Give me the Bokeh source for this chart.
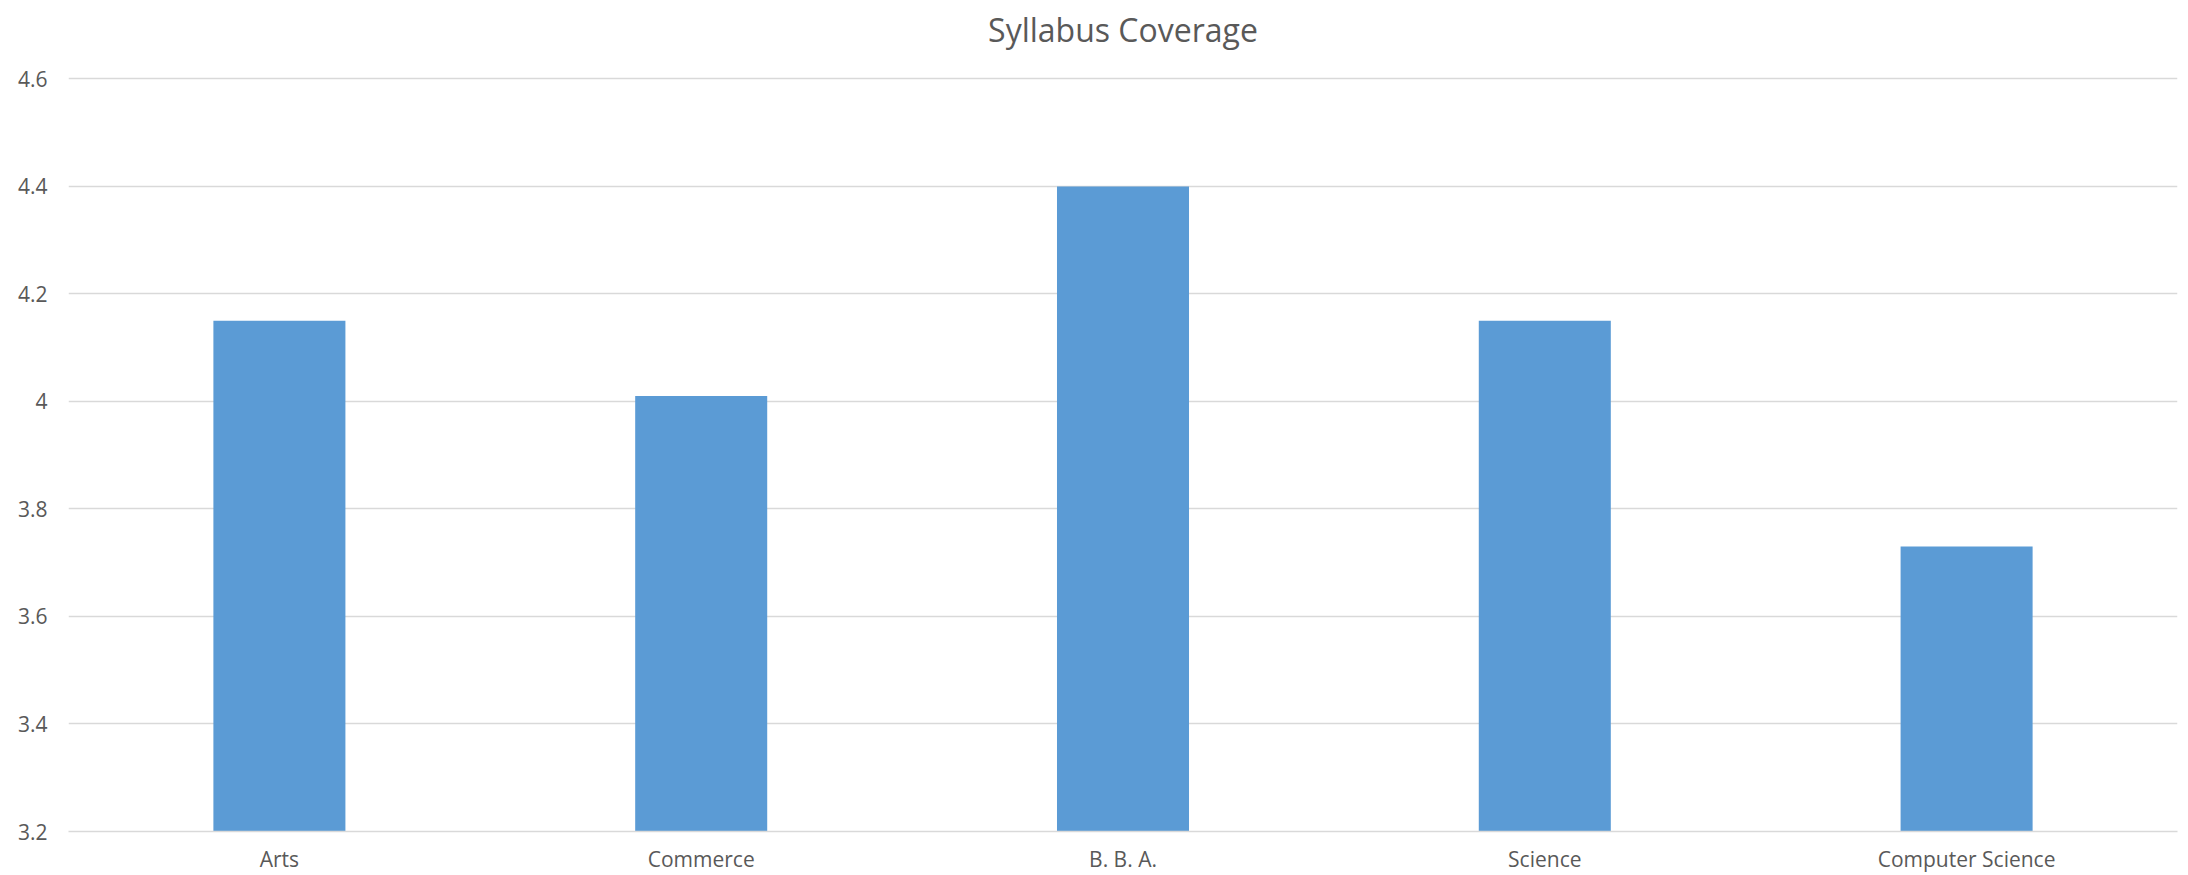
from bokeh.plotting import figure
from bokeh.models import Range1d, FactorRange, FixedTicker, ColumnDataSource
from bokeh.embed import file_html
from bokeh.resources import INLINE

categories = ["Arts", "Commerce", "B. B. A.", "Science", "Computer Science"]
values = [4.15, 4.01, 4.40, 4.15, 3.73]
y_ticks = [3.2, 3.4, 3.6, 3.8, 4.0, 4.2, 4.4, 4.6]
y_tick_labels = ["3.2", "3.4", "3.6", "3.8", "4", "4.2", "4.4", "4.6"]
title_text = "Syllabus Coverage"

TEXT = "#595959"
GRID = "#D9D9D9"
BAR = "#5B9BD5"
FONT = "Open Sans"

p = figure(width=2188, height=875, output_backend="svg", toolbar_location=None,
           x_range=FactorRange(*categories, range_padding=0),
           y_range=Range1d(3.2, 4.61),
           min_border_left=68, min_border_right=11, min_border_top=73, min_border_bottom=44)

p.title.text = title_text
p.title.align = "center"
p.title.text_font = FONT
p.title.text_font_size = "32px"
p.title.text_font_style = "normal"
p.title.text_color = TEXT
p.title.standoff = 10
p.title.padding = dict(left=0, right=0, top=0, bottom=18)

src = ColumnDataSource(dict(cat=categories, val=values))
p.vbar(x="cat", top="val", bottom=3.2, width=0.313, source=src,
       fill_color=BAR, line_color=None)

p.outline_line_color = None
p.xgrid.grid_line_color = None
p.ygrid.grid_line_color = GRID
p.ygrid.grid_line_width = 1.3
p.yaxis.ticker = FixedTicker(ticks=y_ticks)
p.yaxis.major_label_overrides = {t: l for t, l in zip(y_ticks, y_tick_labels)}

for ax in (p.xaxis, p.yaxis):
    ax.axis_line_color = None
    ax.major_tick_line_color = None
    ax.minor_tick_line_color = None
    ax.major_tick_in = 0
    ax.major_tick_out = 0
    ax.major_label_text_font = FONT
    ax.major_label_text_font_size = "21px"
    ax.major_label_text_color = TEXT

p.xaxis.axis_line_color = GRID
p.xaxis.axis_line_width = 1.3
p.xaxis.major_label_standoff = 13
p.xaxis.major_label_text_line_height = 0.8
p.yaxis.major_label_standoff = 21

open("out.html", "w").write(file_html(p, INLINE))
